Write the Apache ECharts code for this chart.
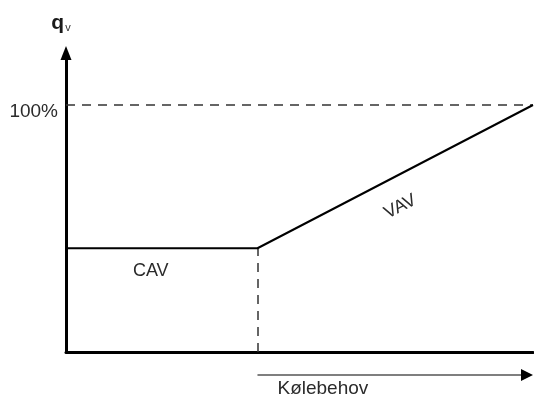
<!DOCTYPE html>
<html>
<head>
<meta charset="utf-8">
<script src="https://cdn.jsdelivr.net/npm/echarts@6/dist/echarts.min.js"></script>
<style>html,body{margin:0;padding:0;background:#fff;}#c{width:534px;height:399px;}</style>
</head>
<body>
<div id="c"></div>
<script>
// Data (x: share of cooling demand, y: air flow q_v in %)
var flowX = [0, 41, 100];
var flowY = [42, 42, 100];
var maxFlowLabel = '100%';
var yLabel = 'q';
var ySub = 'v';
var xLabel = 'Kølebehov';
var cavLabel = 'CAV';
var vavLabel = 'VAV';

var FONT = '"Liberation Sans", Arial, sans-serif';
var chart = echarts.init(document.getElementById('c'), null, {renderer: 'canvas'});

var points = flowX.map(function (x, i) { return [x, flowY[i]]; });
var bx = flowX[1], by = flowY[1];

chart.setOption({
  animation: false,
  backgroundColor: '#fff',
  grid: {left: 66, right: 1, top: 53, bottom: 47, containLabel: false},
  xAxis: {
    type: 'value', min: 0, max: 100,
    axisLine: {show: true, onZero: false, lineStyle: {color: '#000', width: 3}},
    axisTick: {show: false}, axisLabel: {show: false}, splitLine: {show: false}
  },
  yAxis: {
    type: 'value', min: 0, max: 121.05, interval: 100,
    axisLine: {show: true, onZero: false, symbol: ['none', 'triangle'], symbolSize: [11, 14], lineStyle: {color: '#000', width: 3}},
    axisTick: {show: false},
    axisLabel: {
      show: true, margin: 8, showMaxLabel: false,
      formatter: function (v) { return v === 100 ? '{a|' + maxFlowLabel + '}' : ''; },
      rich: {a: {color: '#2b2b2b', fontFamily: FONT, fontSize: 19, padding: [14, 0, 0, 0]}}
    },
    splitLine: {show: false}
  },
  series: [{
    type: 'line',
    data: points,
    symbol: 'none',
    lineStyle: {color: '#000', width: 2},
    z: 5,
    markLine: {
      silent: true, symbol: 'none', label: {show: false},
      lineStyle: {color: '#333', width: 1.5, type: [9, 7]},
      data: [
        [{coord: [flowX[0], flowY[2]]}, {coord: [flowX[2], flowY[2]]}],
        [{coord: [bx, 0]}, {coord: [bx, by]}]
      ]
    }
  }]
});

var pB = chart.convertToPixel({gridIndex: 0}, [bx, 0]);
var pE = chart.convertToPixel({gridIndex: 0}, [flowX[2], 0]);
var ay = pB[1] + 23;
var pC = chart.convertToPixel({gridIndex: 0}, [(flowX[0] + bx) / 2, by]);
var pV = chart.convertToPixel({gridIndex: 0}, [(bx + flowX[2]) / 2, (by + flowY[2]) / 2]);
var p1 = chart.convertToPixel({gridIndex: 0}, [bx, by]);
var p2 = chart.convertToPixel({gridIndex: 0}, [flowX[2], flowY[2]]);
var rot = Math.atan2(p1[1] - p2[1], p2[0] - p1[0]);

chart.setOption({
  graphic: [
    {type: 'line', shape: {x1: pB[0], y1: ay, x2: pE[0] - 10, y2: ay}, style: {stroke: '#555', lineWidth: 1.5}},
    {type: 'polygon', shape: {points: [[pE[0], ay], [pE[0] - 12, ay - 6], [pE[0] - 12, ay + 6]]}, style: {fill: '#000'}},
    {type: 'text', x: pB[0] + 20, y: ay + 14, style: {text: xLabel, font: '19px ' + FONT, fill: '#2b2b2b', textAlign: 'left', textVerticalAlign: 'middle'}},
    {type: 'text', x: pC[0] - 11, y: pC[1] + 23, style: {text: cavLabel, font: '18px ' + FONT, fill: '#2b2b2b', textAlign: 'center', textVerticalAlign: 'middle'}},
    {type: 'text', x: pV[0] + 5, y: pV[1] + 30, rotation: rot, style: {text: vavLabel, font: '18px ' + FONT, fill: '#2b2b2b', textAlign: 'center', textVerticalAlign: 'middle'}},
    {type: 'text', x: 61, y: 23, style: {
      text: '{q|' + yLabel + '}{v|' + ySub + '}',
      textAlign: 'center', textVerticalAlign: 'middle',
      rich: {
        q: {font: 'bold 21px ' + FONT, fill: '#1a1a1a', verticalAlign: 'bottom'},
        v: {font: '11px ' + FONT, fill: '#333', verticalAlign: 'bottom', padding: [0, 0, 0, 1]}
      }
    }}
  ]
});
</script>
</body>
</html>
